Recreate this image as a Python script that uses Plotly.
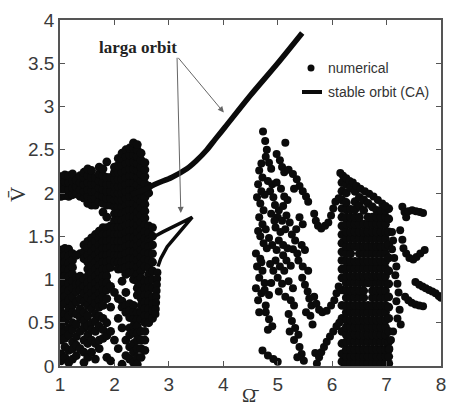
import plotly.graph_objects as go

# ---------------- data ----------------
# stable orbit (CA), upper branch
orbit_w = [2.30, 2.55, 2.78, 3.05, 3.33, 3.50, 3.70, 3.85, 4.03, 4.50, 5.00, 5.45]
orbit_v = [1.98, 2.04, 2.11, 2.18, 2.28, 2.37, 2.50, 2.62, 2.76, 3.13, 3.50, 3.85]
# small "<" shaped branch near Omega ~ 3
arm_w = [2.60, 2.71, 2.89, 3.15, 3.43, 3.20, 2.97, 2.85, 2.80]
arm_v = [1.44, 1.49, 1.55, 1.63, 1.72, 1.55, 1.38, 1.24, 1.15]
# its lower, dotted continuation
arm_dot_w = [2.79, 2.785, 2.78, 2.775, 2.77, 2.765, 2.76, 2.755]
arm_dot_v = [1.08, 1.01, 0.94, 0.87, 0.80, 0.73, 0.66, 0.60]

# numerical points: left cloud, column by column (Omega: list of V)
left_cols = {
    1.02: [1.96, 2.04, 2.12, 2.19, 1.34, 1.26, 1.18, 1.10, 1.02, 0.94, 0.86, 0.78, 0.70, 0.62, 0.54, 0.46, 0.38, 0.30, 0.14, 0.06],
    1.09: [1.97, 2.05, 2.13, 2.21, 1.36, 1.28, 1.20, 1.12, 1.04, 0.96, 0.88, 0.80, 0.72, 0.60, 0.52, 0.40, 0.32, 0.22, 0.10],
    1.16: [1.96, 2.04, 2.12, 2.20, 1.35, 1.27, 1.19, 1.11, 1.03, 0.95, 0.87, 0.76, 0.66, 0.58, 0.44, 0.36, 0.18, 0.04],
    1.23: [1.98, 2.06, 2.14, 2.22, 1.30, 1.22, 1.14, 1.06, 0.98, 0.90, 0.80, 0.70, 0.62, 0.50, 0.42, 0.28, 0.20, 0.08],
    1.30: [1.99, 2.07, 2.15, 1.28, 1.02, 0.94, 0.86, 0.74, 0.60, 0.48, 0.34, 0.24, 0.12],
    1.37: [1.96, 2.04, 2.12, 2.20, 1.30, 1.04, 0.96, 0.88, 0.78, 0.66, 0.56, 0.40, 0.20],
    1.44: [1.94, 2.02, 2.10, 2.18, 2.24, 1.40, 1.32, 1.24, 1.00, 0.92, 0.84, 0.74, 0.62, 0.52, 0.44, 0.30, 0.16, 0.04],
    1.51: [1.88, 1.96, 2.04, 2.12, 2.20, 2.28, 1.44, 1.36, 1.28, 1.20, 1.12, 1.04, 0.96, 0.88, 0.80, 0.70, 0.58, 0.46, 0.36, 0.26, 0.10],
    1.58: [1.86, 1.94, 2.02, 2.10, 2.18, 2.26, 1.48, 1.40, 1.32, 1.24, 1.16, 1.08, 1.00, 0.92, 0.84, 0.76, 0.66, 0.50, 0.42, 0.30, 0.16],
    1.65: [1.86, 1.94, 2.02, 2.10, 2.18, 1.52, 1.44, 1.36, 1.28, 1.20, 1.12, 1.04, 0.96, 0.88, 0.80, 0.72, 0.60, 0.52, 0.40, 0.26, 0.08],
    1.72: [1.90, 1.98, 2.06, 2.14, 2.22, 2.30, 1.56, 1.48, 1.40, 1.32, 1.24, 1.16, 1.08, 1.00, 0.92, 0.84, 0.76, 0.68, 0.58, 0.46, 0.30, 0.20],
    1.79: [1.88, 1.96, 2.04, 2.12, 2.20, 2.28, 1.78, 1.60, 1.52, 1.44, 1.36, 1.28, 1.20, 1.12, 1.04, 0.96, 0.88, 0.80, 0.70, 0.55, 0.42, 0.32],
    1.86: [1.86, 1.94, 2.02, 2.10, 2.18, 2.36, 1.72, 1.60, 1.52, 1.44, 1.36, 1.28, 1.20, 1.12, 1.04, 0.96, 0.88, 0.78, 0.50, 0.35, 0.10],
    1.93: [1.86, 1.94, 2.02, 2.10, 2.18, 1.62, 1.54, 1.46, 1.38, 1.30, 1.22, 1.14, 0.92, 0.68, 0.40, 0.06],
    2.00: [1.84, 1.92, 2.00, 2.08, 2.16, 2.24, 2.30, 1.76, 1.68, 1.60, 1.52, 1.44, 1.36, 1.28, 1.20, 0.85, 0.30],
    2.07: [1.84, 1.92, 2.00, 2.08, 2.16, 2.24, 2.32, 2.40, 1.76, 1.68, 1.60, 1.52, 1.44, 1.36, 1.28, 1.20, 1.12, 0.78, 0.55, 0.20],
    2.14: [1.84, 1.92, 2.00, 2.08, 2.16, 2.24, 2.32, 2.40, 2.46, 1.76, 1.68, 1.60, 1.52, 1.44, 1.36, 1.28, 1.20, 1.12, 0.98, 0.75, 0.68, 0.44, 0.02],
    2.21: [1.86, 1.94, 2.02, 2.10, 2.18, 2.26, 2.34, 2.42, 2.50, 1.78, 1.70, 1.62, 1.54, 1.46, 1.38, 1.30, 1.22, 1.14, 1.06, 0.85, 0.70, 0.62, 0.30, 0.12],
    2.28: [1.88, 1.96, 2.04, 2.12, 2.20, 2.28, 2.36, 2.44, 2.52, 1.80, 1.72, 1.64, 1.56, 1.48, 1.40, 1.32, 1.24, 1.16, 1.08, 0.72, 0.64, 0.56, 0.44, 0.36, 0.22, 0.08],
    2.35: [1.88, 1.96, 2.04, 2.12, 2.20, 2.28, 2.36, 2.44, 2.52, 2.58, 1.80, 1.72, 1.64, 1.56, 1.48, 1.40, 1.32, 1.24, 1.16, 1.08, 1.00, 0.70, 0.62, 0.54, 0.46, 0.38, 0.26, 0.16, 0.04],
    2.42: [1.86, 1.94, 2.02, 2.10, 2.18, 2.26, 2.34, 2.42, 2.50, 2.56, 1.78, 1.70, 1.62, 1.54, 1.46, 1.38, 1.30, 1.22, 1.14, 1.06, 0.98, 0.90, 0.82, 0.62, 0.54, 0.46, 0.38, 0.30, 0.20, 0.10, 0.02],
    2.49: [1.90, 1.98, 2.06, 2.14, 2.22, 2.30, 2.38, 2.46, 1.82, 1.74, 1.66, 1.58, 1.50, 1.42, 1.34, 1.26, 1.18, 1.10, 1.02, 0.94, 0.86, 0.78, 0.70, 0.62, 0.54, 0.40, 0.30, 0.20, 0.10],
    2.56: [1.95, 2.03, 2.11, 2.19, 2.27, 2.35, 1.87, 1.79, 1.71, 1.63, 1.55, 1.47, 1.39, 1.31, 1.23, 1.15, 0.98, 0.90, 0.82, 0.74, 0.66, 0.58, 0.50, 0.40, 0.30, 0.18],
    2.63: [2.00, 2.08, 1.62, 1.54, 1.46, 1.38, 1.30, 1.22, 1.14, 1.06, 0.98, 0.90, 0.82, 0.74, 0.66, 0.58, 0.50],
    2.70: [1.60, 1.50, 1.40, 1.30, 1.20, 1.10, 1.00, 0.90, 0.80, 0.72, 0.64, 0.55],
}

# middle cloud, scattered points (Omega, V)
mid_w = [4.73, 4.77, 4.80, 4.78, 4.84, 4.88, 5.14, 4.98, 5.04, 5.08, 5.12,
         4.66, 4.72, 4.64, 4.70, 4.82, 4.90, 4.98,
         5.20, 5.28, 5.35, 5.40, 5.46, 5.52, 5.56, 5.30,
         4.62, 4.68, 4.74, 4.66, 4.72, 4.64, 4.78,
         4.95, 5.02, 5.10, 5.00, 5.08, 5.16, 5.22, 4.96, 5.05, 5.14, 5.26, 5.32, 5.02, 5.10, 5.18, 4.98, 5.28, 5.36,
         4.60, 4.68, 4.62, 4.72, 4.66, 4.76, 4.60, 4.70, 4.64, 4.78,
         4.96, 5.04, 5.12, 5.00, 5.08, 5.20, 5.28, 5.02, 5.14, 5.24, 5.30,
         5.45, 5.50, 5.55, 5.58, 5.62, 5.52,
         4.78, 4.84, 4.90, 4.82,
         5.20, 5.26, 5.32, 5.38, 5.22, 5.30, 5.40, 5.44, 5.36, 5.48,
         4.72, 4.82, 4.92, 5.00, 5.69,
         4.86, 4.92, 4.88, 4.94, 4.84, 4.90, 4.86, 4.92, 4.88, 4.84,
         4.70, 4.76, 4.68, 4.74, 4.80, 4.70, 4.76, 4.66,
         5.40, 5.46, 5.34, 5.44, 5.50, 5.38, 5.46, 5.56, 5.60, 5.64,
         5.06, 5.12, 5.18, 5.10, 5.16, 5.24]
mid_v = [2.71, 2.60, 2.50, 2.42, 2.35, 2.28, 2.58, 2.45, 2.38, 2.30, 2.24,
         2.26, 2.18, 2.10, 2.02, 2.14, 2.10, 2.12,
         2.27, 2.22, 2.16, 2.08, 2.02, 1.96, 1.90, 2.05,
         1.95, 1.88, 1.80, 1.72, 1.64, 1.56, 1.58,
         1.86, 1.80, 1.85, 1.72, 1.68, 1.74, 1.66, 1.60, 1.55, 1.58, 1.52, 1.45, 1.45, 1.40, 1.36, 1.34, 1.35, 1.30,
         1.30, 1.24, 1.15, 1.10, 1.02, 0.96, 0.90, 0.84, 0.76, 0.70,
         1.22, 1.15, 1.10, 1.02, 0.95, 0.98, 0.90, 0.86, 0.80, 0.76, 0.70,
         1.02, 0.94, 0.86, 0.78, 0.70, 0.62,
         0.62, 0.54, 0.46, 0.42,
         0.60, 0.52, 0.44, 0.36, 0.40, 0.30, 0.22, 0.14, 0.10, 0.06,
         0.18, 0.12, 0.08, 0.05, 0.15,
         2.02, 1.95, 1.76, 1.68, 1.48, 1.40, 1.18, 1.10, 0.96, 0.82,
         2.34, 1.98, 1.50, 1.42, 1.36, 1.20, 0.88, 0.62,
         1.72, 1.64, 1.58, 1.40, 1.34, 1.22, 1.15, 1.10, 0.58, 0.48,
         2.05, 1.96, 1.92, 1.28, 1.22, 1.16]

# chains between the middle and right clouds
chain_w = [5.67, 5.70, 5.74, 5.80, 5.87, 5.93, 5.98, 6.02, 6.06, 6.12,
           5.67, 5.71, 5.76, 5.82, 5.90, 5.98, 6.04, 6.08, 6.12,
           5.72, 5.76, 5.80, 5.85, 5.90, 5.96, 6.02, 6.08, 6.13,
           6.15, 6.20, 6.26, 6.32, 6.38, 6.45, 6.52, 6.60, 6.68, 6.76, 6.84, 6.92, 6.98]
chain_v = [1.76, 1.68, 1.62, 1.59, 1.62, 1.66, 1.74, 1.82, 1.90, 1.94,
           0.80, 0.72, 0.65, 0.62, 0.64, 0.70, 0.76, 0.84, 0.92,
           0.03, 0.10, 0.16, 0.22, 0.28, 0.34, 0.40, 0.46, 0.50,
           2.23, 2.20, 2.17, 2.14, 2.12, 2.08, 2.05, 2.02, 1.99, 1.96, 1.92, 1.88, 1.85]

# right dense cloud, column by column
right_cols = {
    6.18: [0.05, 0.14, 0.26, 0.40, 0.55, 0.70, 0.88, 1.02, 1.12, 1.22, 1.32, 1.42, 1.52, 1.62, 1.72, 1.82, 1.92, 2.02, 2.12],
    6.26: [0.03, 0.11, 0.19, 0.28, 0.36, 0.45, 0.53, 0.62, 0.70, 0.79, 0.87, 0.96, 1.04, 1.13, 1.21, 1.30, 1.38, 1.47, 1.55, 1.64, 1.72, 1.81, 1.89, 2.00, 2.10],
    6.34: [0.03, 0.11, 0.19, 0.28, 0.36, 0.45, 0.53, 0.62, 0.70, 0.79, 0.87, 0.96, 1.04, 1.13, 1.21, 1.30, 1.38, 1.47, 1.55, 1.64, 1.72, 1.81, 2.06],
    6.42: [0.03, 0.11, 0.19, 0.28, 0.36, 0.45, 0.53, 0.62, 0.70, 0.79, 0.87, 0.96, 1.04, 1.13, 1.21, 1.38, 1.47, 1.55, 1.64, 1.72, 1.81, 1.90, 2.02],
    6.50: [0.03, 0.11, 0.19, 0.28, 0.36, 0.45, 0.53, 0.62, 0.70, 0.79, 0.87, 0.96, 1.04, 1.13, 1.21, 1.30, 1.38, 1.47, 1.55, 1.64, 1.72, 1.85, 1.95],
    6.58: [0.03, 0.11, 0.19, 0.28, 0.36, 0.45, 0.53, 0.62, 0.70, 0.79, 0.87, 0.96, 1.04, 1.13, 1.21, 1.30, 1.38, 1.47, 1.55, 1.64, 1.80, 1.92],
    6.66: [0.03, 0.11, 0.19, 0.28, 0.36, 0.45, 0.53, 0.62, 0.70, 0.96, 1.04, 1.13, 1.21, 1.30, 1.38, 1.47, 1.55, 1.64, 1.72, 1.88],
    6.74: [0.03, 0.11, 0.19, 0.28, 0.36, 0.45, 0.53, 0.62, 0.70, 0.79, 0.87, 0.96, 1.04, 1.13, 1.21, 1.30, 1.38, 1.47, 1.55, 1.64, 1.72, 1.84],
    6.82: [0.03, 0.11, 0.19, 0.28, 0.36, 0.45, 0.53, 0.62, 0.70, 0.79, 0.87, 0.96, 1.04, 1.13, 1.21, 1.30, 1.38, 1.47, 1.55, 1.64, 1.72, 1.80],
    6.90: [0.03, 0.11, 0.19, 0.28, 0.36, 0.45, 0.53, 0.62, 0.70, 0.79, 0.87, 0.96, 1.04, 1.13, 1.21, 1.30, 1.38, 1.47, 1.55, 1.64, 1.72, 1.80],
    6.98: [0.03, 0.11, 0.19, 0.28, 0.36, 0.45, 0.53, 0.62, 0.70, 0.79, 0.87, 0.96, 1.04, 1.13, 1.21, 1.30, 1.38, 1.47, 1.55, 1.64, 1.72, 1.80],
    7.04: [0.03, 0.11, 0.19, 0.28, 0.40, 0.55, 0.68, 0.80, 0.95, 1.10, 1.25, 1.40, 1.55, 1.70, 1.82],
}

# features right of the dense cloud
edge_w = [7.10, 7.12, 7.10, 7.14, 7.18, 7.16, 7.20, 7.22, 7.18, 7.24, 7.20, 7.26, 7.12, 7.08, 7.05,
          7.29, 7.33, 7.36, 7.40, 7.47, 7.54, 7.61, 7.67,
          7.25, 7.29,
          7.31, 7.36, 7.42, 7.49, 7.55, 7.62, 7.70,
          7.53, 7.60, 7.66, 7.72, 7.78, 7.84, 7.90, 7.96, 8.00,
          7.34, 7.40, 7.46, 7.53, 7.60, 7.67]
edge_v = [1.55, 1.45, 1.35, 1.25, 1.15, 1.05, 0.95, 0.85, 0.75, 0.65, 0.55, 0.48, 0.40, 0.30, 0.20,
          1.84, 1.78, 1.72, 1.79, 1.80, 1.79, 1.78, 1.77,
          1.57, 1.46,
          1.36, 1.30, 1.25, 1.23, 1.26, 1.30, 1.34,
          0.97, 0.94, 0.92, 0.90, 0.88, 0.86, 0.84, 0.81, 0.79,
          0.80, 0.76, 0.73, 0.71, 0.70, 0.69]

x_ticks = [1, 2, 3, 4, 5, 6, 7, 8]
y_ticks = [0, 0.5, 1, 1.5, 2, 2.5, 3, 3.5, 4]
y_tick_text = ["0", "0.5", "1", "1.5", "2", "2.5", "3", "3.5", "4"]

# ---------------- build ----------------
dense_w, dense_v = [], []
for cols in (left_cols, right_cols):
    for w, vs in cols.items():
        dense_w += [w] * len(vs)
        dense_v += vs
sparse_w = mid_w + chain_w + edge_w + arm_dot_w
sparse_v = mid_v + chain_v + edge_v + arm_dot_v

INK = "#0b0b0b"
fig = go.Figure()
fig.add_trace(go.Scatter(x=dense_w, y=dense_v, mode="markers",
                         marker=dict(size=8.8, color=INK, line=dict(width=0)),
                         name="numerical", showlegend=False))
fig.add_trace(go.Scatter(x=sparse_w, y=sparse_v, mode="markers",
                         marker=dict(size=8, color=INK, line=dict(width=0)),
                         name="numerical", showlegend=False))
fig.add_trace(go.Scatter(x=orbit_w, y=orbit_v, mode="lines",
                         line=dict(color=INK, width=5.5, shape="spline", smoothing=0.8),
                         name="stable orbit (CA)", showlegend=False))
fig.add_trace(go.Scatter(x=arm_w, y=arm_v, mode="lines",
                         line=dict(color=INK, width=3.5),
                         showlegend=False))

W, H = 449, 408
L, R, T, B = 60, 8, 20, 42
pw, ph = W - L - R, H - T - B
def px(x):
    return (x - L) / pw
def py(y):
    return (H - B - y) / ph

axis_col = "#555"
axis_common = dict(ticks="inside", ticklen=5, tickcolor=axis_col, showgrid=False, zeroline=False,
                   showline=True, linecolor=axis_col, linewidth=1.5, mirror="allticks",
                   automargin=False, tickfont=dict(size=19, color="#3a3a3a"))
fig.update_layout(
    template="none",
    width=W, height=H, margin=dict(l=L, r=R, t=T, b=B, autoexpand=False),
    paper_bgcolor="white", plot_bgcolor="white",
    font=dict(family="Liberation Sans, Arial", color="#3a3a3a"),
    xaxis=dict(range=[1, 8], tickvals=x_ticks, ticktext=[str(t) for t in x_ticks], **axis_common),
    yaxis=dict(range=[0, 4], tickvals=y_ticks, ticktext=y_tick_text, **axis_common),
    showlegend=False,
)

def note(x, y, text, size, family="Liberation Sans, Arial", color="#333", xa="center", ya="middle", angle=0):
    return dict(xref="paper", yref="paper", x=px(x), y=py(y), text=text, xanchor=xa, yanchor=ya,
                textangle=angle, showarrow=False, font=dict(family=family, size=size, color=color),
                borderpad=0)

anns = [
    note(250, 407, "\u03A9\u0304", 19, family="Liberation Serif", ya="bottom"),
    note(18, 195, "V\u0304", 21, family="Liberation Serif", angle=-90),
    note(327, 68, "numerical", 14, xa="left"),
    note(327, 92, "stable orbit (CA)", 14, xa="left"),
    note(138, 48, "<b>larga orbit</b>", 17, family="Liberation Serif", color="#222"),
]
tail = (3.15, 3.58)
for head in [(4.01, 2.93), (3.22, 1.77)]:
    anns.append(dict(x=head[0], y=head[1], ax=tail[0], ay=tail[1], xref="x", yref="y",
                     axref="x", ayref="y", text="", showarrow=True, arrowhead=2,
                     arrowsize=1.2, arrowwidth=1, arrowcolor="#666"))
fig.update_layout(annotations=anns)

fig.add_shape(type="circle", xref="paper", yref="paper", xsizemode="pixel", ysizemode="pixel",
              xanchor=px(311), yanchor=py(68), x0=-3.5, x1=3.5, y0=-3.5, y1=3.5,
              fillcolor=INK, line=dict(width=0))
fig.add_shape(type="line", xref="paper", yref="paper", x0=px(302), x1=px(322), y0=py(92), y1=py(92),
              line=dict(color=INK, width=4))

fig.write_html("out.html")
